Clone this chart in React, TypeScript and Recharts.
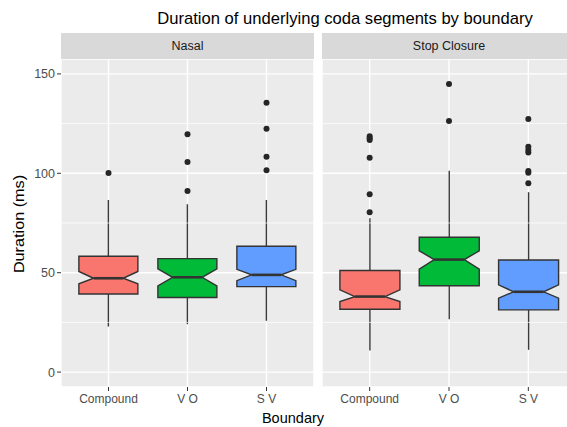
import { ComposedChart, Bar, Scatter, XAxis, YAxis, CartesianGrid, ReferenceLine } from 'recharts';

const categories = ['Compound', 'V O', 'S V'];
const FILLS = ['#F8766D', '#00BA38', '#619CFF'];
const FONT = '"Liberation Sans", Arial, Helvetica, sans-serif';

// Nasal facet
const nasalWhiskerLow = [22.9, 24.1, 25.8];
const nasalQ1 = [39.3, 37.5, 43.0];
const nasalNotchLow = [44.4, 43.4, 46.0];
const nasalMedian = [47.2, 47.7, 48.9];
const nasalNotchHigh = [50.6, 51.9, 51.7];
const nasalQ3 = [58.3, 57.1, 63.3];
const nasalWhiskerHigh = [86.6, 84.4, 86.6];
const nasalOutliers = [[100.2], [91.1, 105.7, 119.7], [101.5, 108.3, 122.4, 135.5]];

// Stop Closure facet
const stopWhiskerLow = [10.9, 26.6, 11.2];
const stopQ1 = [31.6, 43.4, 31.3];
const stopNotchLow = [35.5, 51.8, 37.2];
const stopMedian = [38.0, 56.6, 40.4];
const stopNotchHigh = [41.4, 61.0, 43.9];
const stopQ3 = [51.1, 67.8, 56.4];
const stopWhiskerHigh = [77.4, 101.3, 90.5];
const stopOutliers = [
  [80.4, 89.4, 107.8, 116.7, 117.6, 118.7],
  [126.3, 144.9],
  [95.0, 100.3, 101.2, 110.5, 111.7, 113.4, 127.3],
];

const yTicks = [0, 50, 100, 150];
const minorTicks = [25, 75, 125];

function buildBoxes(
  lo: number[], q1: number[], nl: number[], med: number[], nh: number[], q3: number[], hi: number[]
) {
  return categories.map((cat, i) => ({
    cat,
    range: [lo[i], hi[i]],
    lo: lo[i], q1: q1[i], nl: nl[i], med: med[i], nh: nh[i], q3: q3[i], hi: hi[i],
    fill: FILLS[i],
  }));
}

function buildOutliers(out: number[][]) {
  const rows: { cat: string; value: number }[] = [];
  out.forEach((vals, i) => vals.forEach((v) => rows.push({ cat: categories[i], value: v })));
  return rows;
}

// notched box drawn from the range bar geometry (whisker low..high)
const NotchedBox = (props: any) => {
  const { x, y, width, height, payload } = props;
  const top = Math.min(y, y + height);
  const bottom = Math.max(y, y + height);
  const { lo, hi } = payload;
  const py = (v: number) => bottom - ((v - lo) / (hi - lo)) * (bottom - top);
  const xmin = x;
  const xmax = x + width;
  const xc = x + width / 2;
  const indent = width * 0.25;
  const pts = [
    [xmin, py(payload.q3)],
    [xmin, py(payload.nh)],
    [xmin + indent, py(payload.med)],
    [xmin, py(payload.nl)],
    [xmin, py(payload.q1)],
    [xmax, py(payload.q1)],
    [xmax, py(payload.nl)],
    [xmax - indent, py(payload.med)],
    [xmax, py(payload.nh)],
    [xmax, py(payload.q3)],
  ]
    .map((p) => p.join(','))
    .join(' ');
  return (
    <g>
      <line x1={xc} x2={xc} y1={py(payload.hi)} y2={py(payload.q3)} stroke="#3a3a3a" strokeWidth={1.4} />
      <line x1={xc} x2={xc} y1={py(payload.q1)} y2={py(payload.lo)} stroke="#3a3a3a" strokeWidth={1.4} />
      <polygon points={pts} fill={payload.fill} stroke="#333333" strokeWidth={1.4} />
      <line
        x1={xmin + indent}
        x2={xmax - indent}
        y1={py(payload.med)}
        y2={py(payload.med)}
        stroke="#333333"
        strokeWidth={2.6}
      />
    </g>
  );
};

const Dot = (props: any) => {
  const { cx, cy } = props;
  return <circle cx={cx} cy={cy} r={3} fill="#262626" />;
};

function Facet({ boxes, outliers, width, showY }: { boxes: any[]; outliers: any[]; width: number; showY: boolean }) {
  return (
    <ComposedChart
      width={width}
      height={358}
      data={boxes}
      margin={{ top: 0, right: 0, left: 0, bottom: 0 }}
      barCategoryGap="12.5%"
    >
      <CartesianGrid fill="#EBEBEB" stroke="#FFFFFF" strokeWidth={1.4} />
      {minorTicks.map((v) => (
        <ReferenceLine key={v} y={v} stroke="#FFFFFF" strokeWidth={0.7} />
      ))}
      <XAxis
        dataKey="cat"
        type="category"
        allowDuplicatedCategory={false}
        padding={{ left: 8, right: 8 }}
        height={30}
        axisLine={false}
        tickLine={{ stroke: '#333333' }}
        tickSize={4}
        tickMargin={3}
        tick={{ fontSize: 12, fill: '#4D4D4D', fontFamily: FONT }}
      />
      <YAxis
        type="number"
        domain={[-7.5, 157.5]}
        ticks={yTicks}
        allowDataOverflow
        hide={!showY}
        width={61}
        axisLine={false}
        tickLine={{ stroke: '#333333' }}
        tickSize={4}
        tickMargin={2}
        tick={{ fontSize: 12.5, fill: '#4D4D4D', fontFamily: FONT }}
      />
      <Bar dataKey="range" shape={NotchedBox} isAnimationActive={false} />
      <Scatter data={outliers} dataKey="value" shape={Dot} isAnimationActive={false} />
    </ComposedChart>
  );
}

const stripStyle = (left: number, width: number): React.CSSProperties => ({
  position: 'absolute',
  left,
  top: 33,
  width,
  height: 26,
  background: '#D9D9D9',
  color: '#1A1A1A',
  fontSize: 12.5,
  lineHeight: '26px',
  textAlign: 'center',
  fontFamily: FONT,
});

export default function App() {
  const nasalBoxes = buildBoxes(nasalWhiskerLow, nasalQ1, nasalNotchLow, nasalMedian, nasalNotchHigh, nasalQ3, nasalWhiskerHigh);
  const stopBoxes = buildBoxes(stopWhiskerLow, stopQ1, stopNotchLow, stopMedian, stopNotchHigh, stopQ3, stopWhiskerHigh);

  return (
    <div
      style={{
        position: 'absolute',
        left: 0,
        top: 0,
        width: 567,
        height: 427,
        overflow: 'hidden',
        background: '#FFFFFF',
        fontFamily: FONT,
      }}
    >
      <div style={{ position: 'absolute', left: 0, top: 59 }}>
        <Facet boxes={nasalBoxes} outliers={buildOutliers(nasalOutliers)} width={314} showY />
      </div>
      <div style={{ position: 'absolute', left: 322, top: 59 }}>
        <Facet boxes={stopBoxes} outliers={buildOutliers(stopOutliers)} width={254} showY={false} />
      </div>
      <div style={stripStyle(61, 253)}>Nasal</div>
      <div style={stripStyle(322, 254)}>Stop Closure</div>
      <svg width={567} height={427} style={{ position: 'absolute', left: 0, top: 0, pointerEvents: 'none' }}>
        <text x={345} y={24} textAnchor="middle" fontSize={16.6} fill="#000000" fontFamily={FONT}>
          Duration of underlying coda segments by boundary
        </text>
        <g transform="translate(24 224) scale(1 1.12) rotate(-90)">
          <text x={0} y={0} textAnchor="middle" fontSize={14.5} fill="#000000" fontFamily={FONT}>
            Duration (ms)
          </text>
        </g>
        <text x={293} y={423} textAnchor="middle" fontSize={14.5} fill="#000000" fontFamily={FONT}>
          Boundary
        </text>
      </svg>
    </div>
  );
}
